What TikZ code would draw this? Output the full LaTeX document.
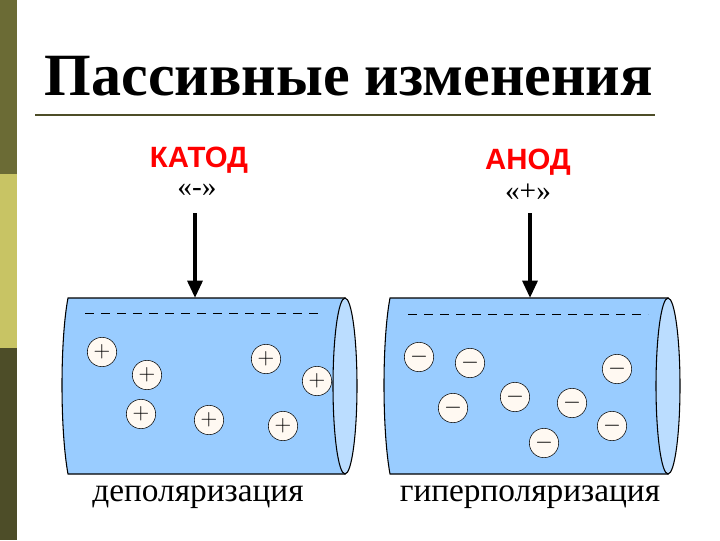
\documentclass[tikz,border=0pt]{standalone}
\usepackage{fontspec}
\usetikzlibrary{arrows.meta}
\setmainfont{Liberation Serif}
\newfontfamily\sansf{Liberation Sans}
\definecolor{cylfill}{HTML}{99CCFF}
\definecolor{capfill}{HTML}{BBDDFF}
\definecolor{oliveA}{HTML}{6B6B35}
\definecolor{oliveB}{HTML}{C8C464}
\definecolor{oliveC}{HTML}{4D4D28}
\begin{document}
\begin{tikzpicture}[x=0.75pt,y=-0.75pt,
  ion/.style={circle,draw=black,fill=white!95!orange,minimum size=22pt,inner sep=0pt,font=\fontsize{17}{17}\selectfont},
  poletext/.style={font=\sansf\bfseries\fontsize{22}{22}\selectfont,text=red},
  signtext/.style={font=\fontsize{22}{22}\selectfont},
  captext/.style={font=\fontsize{25}{25}\selectfont},
  arr/.style={-{Triangle[length=13pt,width=11pt]},line width=3pt}]
\useasboundingbox (0,0) rectangle (720,540);
\fill[white] (0,0) rectangle (720,540);
\fill[oliveA] (0,0) rectangle (17,174);
\fill[oliveB] (0,174) rectangle (17,348);
\fill[oliveC] (0,348) rectangle (17,540);
\node[anchor=west,font=\bfseries\fontsize{45}{45}\selectfont] (title) at (40,76) {Пассивные изменения};
\draw[oliveC,line width=1.5pt] (35,115) -- (655,115);
% left cylinder
\draw[fill=cylfill,thick] (68,298) -- (345,298) -- (345,474) -- (68,474) .. controls (60,430) and (60,340) .. (68,298) -- cycle;
\draw[fill=capfill,thick] (345,386) ellipse (12 and 88);
\draw[dashed,dash pattern=on 7pt off 5pt] (85,313) -- (322,313);
% right cylinder
\draw[fill=cylfill,thick] (390,298) -- (668,298) -- (668,474) -- (390,474) .. controls (382,430) and (382,340) .. (390,298) -- cycle;
\draw[fill=capfill,thick] (668,386) ellipse (12 and 88);
\draw[dashed,dash pattern=on 7pt off 5pt] (408,314) -- (648,314);
% ions
\foreach \n/\x/\y in {p1/102/352,p2/147/375,p3/141/414,p4/209/420,p5/266/359,p6/317/381,p7/283/426}
  \node[ion] (\n) at (\x,\y) {$+$};
\foreach \n/\x/\y in {m1/419/357,m2/470/363,m3/617/369,m4/453/408,m5/515/397,m6/572/403,m7/612/426,m8/544/443}
  \node[ion] (\n) at (\x,\y) {$-$};
% labels
\node[poletext] (katod) at (199,160) {КАТОД};
\node[signtext] (ks) at (197,190) {«-»};
\node[poletext] (anod) at (528,162) {АНОД};
\node[signtext] (as) at (528,192) {«+»};
\coordinate (kt) at (195,213); \coordinate (kb) at (195,298);
\coordinate (at) at (530,213); \coordinate (ab) at (530,298);
\draw[arr] (kt) -- (kb);
\draw[arr] (at) -- (ab);
\node[captext] (dep) at (198,497) {деполяризация};
\node[captext] (hyp) at (530,497) {гиперполяризация};
\end{tikzpicture}
\end{document}
